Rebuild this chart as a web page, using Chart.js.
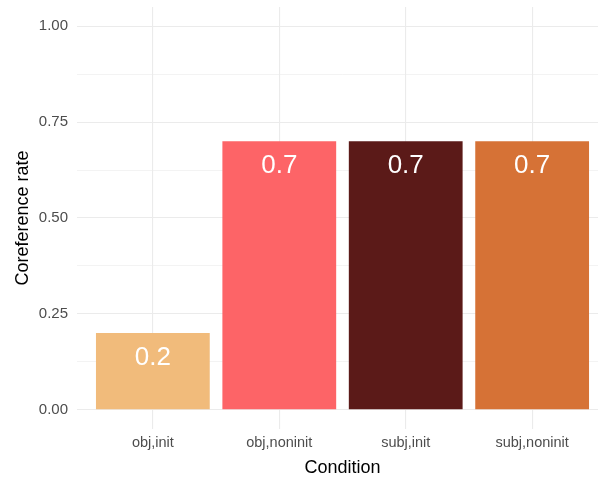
<!DOCTYPE html>
<html>
<head>
<meta charset="utf-8">
<script src="https://cdn.jsdelivr.net/npm/chart.js@4"></script>
<style>
html,body{margin:0;padding:0;background:#fff;overflow:hidden;width:598px;height:479px;}
#wrap{width:610px;height:479px;}
</style>
</head>
<body>
<div id="wrap"><canvas id="c" width="610" height="479"></canvas></div>
<script>
const categories = ["obj,init", "obj,noninit", "subj,init", "subj,noninit"];
const rates = [0.2, 0.7, 0.7, 0.7];
const labels = ["0.2", "0.7", "0.7", "0.7"];
const barColors = ["#F1BB7B", "#FD6467", "#5B1A18", "#D67236"];
const yTicks = [0, 0.125, 0.25, 0.375, 0.5, 0.625, 0.75, 0.875, 1.0];
const yMajor = [0, 0.25, 0.5, 0.75, 1.0];

const FONT = "'Liberation Sans', Arial, sans-serif";

const valueLabels = {
  id: 'valueLabels',
  afterDatasetsDraw(chart) {
    const ctx = chart.ctx;
    const meta = chart.getDatasetMeta(0);
    const ys = chart.scales.y;
    ctx.save();
    ctx.fillStyle = '#ffffff';
    ctx.font = '26px ' + FONT;
    ctx.textAlign = 'center';
    ctx.textBaseline = 'middle';
    meta.data.forEach((bar, i) => {
      ctx.fillText(labels[i], bar.x, ys.getPixelForValue(rates[i]) + 25);
    });
    ctx.restore();
  }
};

new Chart(document.getElementById('c'), {
  type: 'bar',
  data: {
    datasets: [{
      data: categories.map((c, i) => ({x: i + 1, y: rates[i]})),
      backgroundColor: barColors,
      borderWidth: 0,
      barPercentage: 0.9,
      categoryPercentage: 1.0
    }]
  },
  options: {
    responsive: false,
    animation: false,
    layout: {padding: {top: 7, right: 2, left: 0, bottom: 0}},
    plugins: {legend: {display: false}, tooltip: {enabled: false}},
    scales: {
      x: {
        type: 'linear',
        offset: false,
        min: 0.4,
        max: 4.6,
        afterBuildTicks(s) { s.ticks = categories.map((c, i) => ({value: i + 1})); },
        afterFit(s) { s.height = 50; s.paddingLeft = 0; s.paddingRight = 0; },
        grid: {color: '#EBEBEB', lineWidth: 1.1, drawTicks: false, offset: false},
        border: {display: false},
        ticks: {
          callback: (v) => categories[Math.round(v) - 1],
          color: '#4D4D4D',
          font: {family: FONT, size: 14.5},
          padding: 5,
          maxRotation: 0,
          autoSkip: false
        },
        title: {
          display: true,
          text: 'Condition',
          color: '#000000',
          font: {family: FONT, size: 18},
          padding: {top: 0, bottom: 0}
        }
      },
      y: {
        type: 'linear',
        min: -0.05,
        max: 1.05,
        afterBuildTicks(s) { s.ticks = yTicks.map(v => ({value: v})); },
        afterFit(s) { s.width = 77; s.paddingTop = 0; s.paddingBottom = 0; },
        grid: {
          color: '#EBEBEB',
          lineWidth: (c) => yMajor.includes(c.tick && c.tick.value) ? 1.1 : 0.6,
          drawTicks: false
        },
        border: {display: false},
        ticks: {
          callback: (v) => yMajor.includes(v) ? v.toFixed(2) : '',
          color: '#4D4D4D',
          font: {family: FONT, size: 15},
          padding: 9,
          autoSkip: false
        },
        title: {
          display: true,
          text: 'Coreference rate',
          color: '#000000',
          font: {family: FONT, size: 18},
          padding: {top: 12, bottom: 0}
        }
      }
    }
  },
  plugins: [valueLabels]
});
</script>
</body>
</html>
